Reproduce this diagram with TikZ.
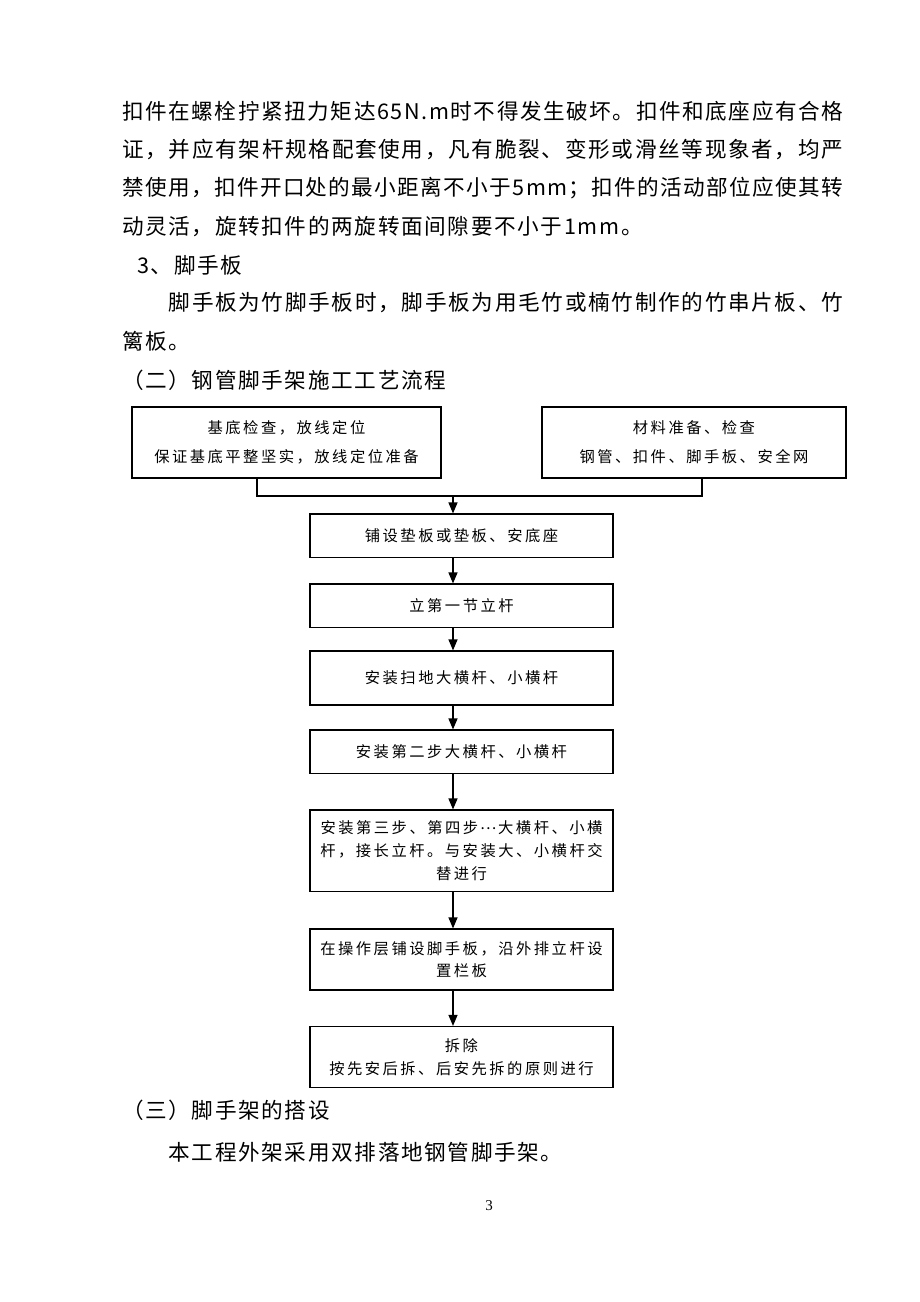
\documentclass[tikz,border=0pt]{standalone}
\usepackage{fontspec}
\setmainfont{Noto Sans CJK SC}
\newfontfamily\tnr{Liberation Serif}
\usetikzlibrary{arrows.meta}
\makeatletter
\newcommand\spreadto[2]{\makebox[#1][s]{\@tfor\sp@t:=#2\do{\sp@t\hfil}\unskip}}
\newcommand\tracked[2]{\@tfor\sp@t:=#2\do{\sp@t\kern#1}\unkern}
\makeatother
\newcommand\bodyfont{\fontsize{21.6}{26}\selectfont}
\newcommand\tb[1]{\tracked{1.66pt}{#1}}
\newcommand\tk[1]{\tracked{2.5pt}{#1}}
\newcommand\mdots{\makebox[15pt]{\raisebox{4.5pt}{…}}}
\begin{document}
\begin{tikzpicture}[x=1pt,y=-1pt,
  body/.style={anchor=west, inner sep=0pt, font=\bodyfont},
  flowbox/.style={draw, line width=1.2pt, minimum width=303pt, inner sep=0pt, align=center},
  arr/.style={line width=1.2pt, -{Triangle[length=11pt,width=9pt]}},
  conn/.style={line width=1.2pt}]
\useasboundingbox (0,0) rectangle (920,1302);
\fill[white] (0,0) rectangle (920,1302);

% body text
\node[body] (t1) at (122,111) {\spreadto{721pt}{扣件在螺栓拧紧扭力矩达65N.m时不得发生破坏。扣件和底座应有合格}};
\node[body] (t2) at (122,149.5) {\spreadto{721pt}{证，并应有架杆规格配套使用，凡有脆裂、变形或滑丝等现象者，均严}};
\node[body] (t3) at (122,188) {\spreadto{721pt}{禁使用，扣件开口处的最小距离不小于5mm；扣件的活动部位应使其转}};
\node[body] (t4) at (122,226.5) {\tb{动灵活，旋转扣件的两旋转面间隙要不小于1mm。}};
\node[body] (t5) at (137,265) {\tb{3、脚手板}};
\node[body] (t6) at (168.5,303) {\spreadto{674.5pt}{脚手板为竹脚手板时，脚手板为用毛竹或楠竹制作的竹串片板、竹}};
\node[body] (t7) at (122,341.5) {\tb{篱板。}};
\node[body] (t8) at (122,380) {\tb{（二）钢管脚手架施工工艺流程}};
\node[body] (t9) at (122,1110) {\tb{（三）脚手架的搭设}};
\node[body] (t10) at (168.5,1152) {\tb{本工程外架采用双排落地钢管脚手架。}};
\node[inner sep=0pt, font=\tnr\fontsize{15}{15}\selectfont] (pg) at (489,1206) {3};

% flow boxes
\node[flowbox, minimum width=309pt, minimum height=71pt, font=\fontsize{15.3}{29}\selectfont] (A) at (286.5,442.5)
  {\tk{基底检查，放线定位}\\\tk{保证基底平整坚实，放线定位准备}};
\node[flowbox, minimum width=304pt, minimum height=71pt, font=\fontsize{15.3}{29}\selectfont] (B) at (694,442.5)
  {\tk{材料准备、检查}\\\tk{钢管、扣件、脚手板、安全网}};
\node[flowbox, minimum height=43.7pt, font=\fontsize{15.3}{23}\selectfont] (C) at (461.5,535.9) {\tk{铺设垫板或垫板、安底座}};
\node[flowbox, minimum height=43.3pt, font=\fontsize{15.3}{23}\selectfont] (D) at (461.5,605.7) {\tk{立第一节立杆}};
\node[flowbox, minimum height=54pt, font=\fontsize{15.3}{23}\selectfont] (E) at (461.5,678) {\tk{安装扫地大横杆、小横杆}};
\node[flowbox, minimum height=43.5pt, font=\fontsize{15.3}{23}\selectfont] (F) at (461.5,751.8) {\tk{安装第二步大横杆、小横杆}};
\node[flowbox, minimum height=81.7pt, font=\fontsize{15.3}{23}\selectfont] (G) at (461.5,850.9)
  {\tk{安装第三步、第四步{\mdots}大横杆、小横}\\\tk{杆，接长立杆。与安装大、小横杆交}\\\tk{替进行}};
\node[flowbox, minimum height=61pt, font=\fontsize{15.3}{22}\selectfont] (H) at (461.5,959.5)
  {\tk{在操作层铺设脚手板，沿外排立杆设}\\\tk{置栏板}};
\node[flowbox, minimum height=61pt, font=\fontsize{15.3}{23.5}\selectfont] (I) at (461.5,1057)
  {\tk{拆除}\\\tk{按先安后拆、后安先拆的原则进行}};

% connectors
\coordinate (la) at (257,496);
\coordinate (rb) at (702,496);
\coordinate (jn) at (453,496);
\coordinate (ax) at (453,0);
\draw[conn] (A.south -| la) -- (la) -- (rb) -- (B.south -| rb);
\draw[arr] (jn) -- (C.north -| jn);
\draw[arr] (C.south -| ax) -- (D.north -| ax);
\draw[arr] (D.south -| ax) -- (E.north -| ax);
\draw[arr] (E.south -| ax) -- (F.north -| ax);
\draw[arr] (F.south -| ax) -- (G.north -| ax);
\draw[arr] (G.south -| ax) -- (H.north -| ax);
\draw[arr] (H.south -| ax) -- (I.north -| ax);
\end{tikzpicture}
\end{document}
